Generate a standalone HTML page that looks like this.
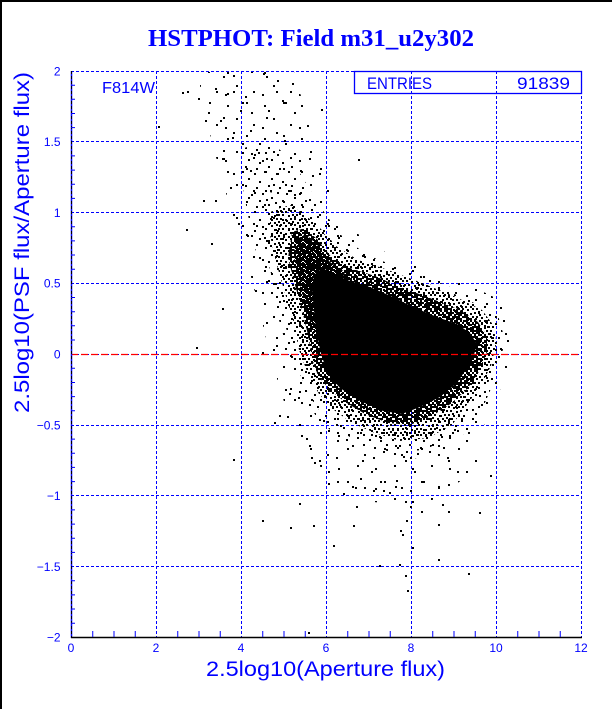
<!DOCTYPE html>
<html><head><meta charset="utf-8"><style>
html,body{margin:0;padding:0;background:#fff;}
svg{display:block;}
text{font-family:"Liberation Sans",sans-serif;fill:#0000ff;}
</style></head><body>
<svg width="612" height="709" viewBox="0 0 612 709" xmlns="http://www.w3.org/2000/svg">
<defs>
<pattern id="pD" width="10" height="10" patternUnits="userSpaceOnUse">
<path fill="#000" d="M0 0h2v2h-2z M4 0h2v2h-2z M6 0h2v2h-2z M2 2h2v2h-2z M6 2h2v2h-2z M8 2h2v2h-2z M0 4h2v2h-2z M4 4h2v2h-2z M8 4h2v2h-2z M2 6h2v2h-2z M4 6h2v2h-2z M6 6h2v2h-2z M0 8h2v2h-2z M6 8h2v2h-2z M8 8h2v2h-2z"/>
</pattern>
<pattern id="pD2" width="10" height="10" patternUnits="userSpaceOnUse" patternTransform="translate(3,5)">
<path fill="#000" d="M0 0h2v2h-2z M4 0h2v2h-2z M6 0h2v2h-2z M2 2h2v2h-2z M6 2h2v2h-2z M8 2h2v2h-2z M0 4h2v2h-2z M4 4h2v2h-2z M8 4h2v2h-2z M2 6h2v2h-2z M4 6h2v2h-2z M6 6h2v2h-2z M0 8h2v2h-2z M6 8h2v2h-2z M8 8h2v2h-2z"/>
</pattern>
<pattern id="pM" width="14" height="14" patternUnits="userSpaceOnUse">
<path fill="#000" d="M0 0h2v2h-2z M5 1h2v2h-2z M10 0h2v2h-2z M2 4h2v2h-2z M8 5h2v2h-2z M12 4h2v2h-2z M0 8h2v2h-2z M5 9h2v2h-2z M10 8h2v2h-2z M3 12h2v2h-2z M8 12h2v2h-2z M12 11h2v2h-2z"/>
</pattern>
<pattern id="pS1" width="23" height="19" patternUnits="userSpaceOnUse">
<path fill="#000" d="M1 2h2v2h-2z M12 0h2v2h-2z M18 7h2v2h-2z M6 10h2v2h-2z M15 14h2v2h-2z M3 16h2v2h-2z"/>
</pattern>
<pattern id="pS2" width="31" height="27" patternUnits="userSpaceOnUse">
<path fill="#000" d="M7 4h2v2h-2z M22 2h2v2h-2z M27 13h2v2h-2z M14 17h2v2h-2z M2 22h2v2h-2z M20 24h2v2h-2z"/>
</pattern>
<pattern id="pV" width="37" height="33" patternUnits="userSpaceOnUse">
<path fill="#000" d="M5 6h2v2h-2z M24 3h2v2h-2z M14 19h2v2h-2z M31 25h2v2h-2z M3 28h2v2h-2z"/>
</pattern>
<pattern id="pV2" width="43" height="41" patternUnits="userSpaceOnUse">
<path fill="#000" d="M18 9h2v2h-2z M36 30h2v2h-2z M8 35h2v2h-2z M27 20h2v2h-2z"/>
</pattern>
</defs>
<rect x="0" y="0" width="612" height="709" fill="#fff"/>
<rect x="0" y="0" width="612" height="2" fill="#000"/>
<rect x="0" y="0" width="2" height="709" fill="#000"/>

<!-- grid -->
<g stroke="#0000ff" stroke-width="1" stroke-dasharray="3 2" fill="none">
<line x1="156.5" y1="71" x2="156.5" y2="637"/>
<line x1="241.5" y1="71" x2="241.5" y2="637"/>
<line x1="326.5" y1="71" x2="326.5" y2="637"/>
<line x1="411.5" y1="71" x2="411.5" y2="637"/>
<line x1="496.5" y1="71" x2="496.5" y2="637"/>
<line x1="581.5" y1="71" x2="581.5" y2="637"/>
<line x1="71" y1="71.5" x2="581" y2="71.5"/>
<line x1="71" y1="141.5" x2="581" y2="141.5"/>
<line x1="71" y1="212.5" x2="581" y2="212.5"/>
<line x1="71" y1="283.5" x2="581" y2="283.5"/>
<line x1="71" y1="354.5" x2="581" y2="354.5"/>
<line x1="71" y1="425.5" x2="581" y2="425.5"/>
<line x1="71" y1="495.5" x2="581" y2="495.5"/>
<line x1="71" y1="566.5" x2="581" y2="566.5"/>
</g>

<!-- scatter layers -->
<polygon fill="url(#pV)" points="198,72 294,72 305,110 318,155 332,200 355,232 385,252 425,267 465,283 500,300 512,330 507,370 493,410 475,440 462,480 425,505 372,502 332,482 305,447 285,405 270,355 257,300 244,250 228,200 214,150 203,105"/>
<polygon fill="url(#pV2)" points="198,72 294,72 305,110 318,155 332,200 355,232 385,252 425,267 465,283 500,300 512,330 507,370 493,410 475,440 462,480 425,505 372,502 332,482 305,447 285,405 270,355 257,300 244,250 228,200 214,150 203,105"/>
<polygon fill="url(#pS1)" points="238,150 268,140 292,160 310,190 326,215 345,240 372,257 405,270 440,283 472,296 497,312 505,340 498,372 484,405 468,430 443,452 408,460 368,452 338,437 317,418 301,390 289,355 279,320 267,285 254,245 245,200"/>
<polygon fill="url(#pS2)" points="258,195 285,190 305,210 322,232 342,250 372,263 410,277 450,292 485,308 500,335 494,370 478,405 458,432 425,450 390,452 355,440 330,425 312,400 298,370 288,335 278,300 268,262 260,230"/>
<polygon fill="url(#pM)" points="270,212 290,205 305,215 320,228 336,246 358,260 388,270 422,283 456,297 482,310 494,326 496,345 491,366 480,387 466,406 452,425 428,438 400,441 375,433 352,423 334,410 319,394 308,374 299,350 293,320 284,290 276,262 270,235"/>
<polygon fill="url(#pD)" points="292,232 305,228 318,240 332,258 350,268 375,276 400,287 430,298 460,310 478,322 487,336 487,352 480,370 468,388 452,403 432,416 410,425 388,423 365,414 345,402 330,390 318,376 312,358 308,335 302,310 295,285 288,258"/>
<polygon fill="url(#pD2)" points="295,240 306,234 318,246 330,262 345,272 335,300 322,330 312,330 305,305 299,280 294,258"/>
<polygon fill="#000" points="312,290 314,275 322,268 335,274 347,280 370,287 393,297 413,307 437,317 457,324 470,333 477,344 474,355 467,368 457,383 440,397 420,407 402,414 383,411 360,401 340,388 328,374 321,354 316,330"/>

<path fill="#000" d="M158 126h2v2h-2z M182 92h2v2h-2z M187 91h2v2h-2z M198 98h2v2h-2z M205 120h2v2h-2z M220 120h2v2h-2z M223 150h2v2h-2z M222 158h2v2h-2z M203 200h2v2h-2z M215 200h2v2h-2z M211 243h2v2h-2z M230 187h2v2h-2z M232 137h2v2h-2z M222 308h2v2h-2z M247 235h2v2h-2z M238 223h2v2h-2z M255 290h2v2h-2z M358 159h2v2h-2z M321 109h2v2h-2z M307 125h2v2h-2z M292 83h2v2h-2z M277 80h2v2h-2z M263 73h2v2h-2z M233 75h2v2h-2z M215 88h2v2h-2z M227 93h2v2h-2z
M233 459h2v2h-2z M299 503h2v2h-2z M290 527h2v2h-2z M313 525h2v2h-2z M333 545h2v2h-2z M379 565h2v2h-2z M399 564h2v2h-2z M407 590h2v2h-2z M412 547h2v2h-2z M438 559h2v2h-2z M468 573h2v2h-2z M442 504h2v2h-2z M448 511h2v2h-2z M479 512h2v2h-2z M400 530h2v2h-2z M402 534h2v2h-2z M406 520h2v2h-2z M356 506h2v2h-2z M353 525h2v2h-2z M410 506h2v2h-2z M421 511h2v2h-2z M438 524h2v2h-2z M490 475h2v2h-2z M475 460h2v2h-2z M448 484h2v2h-2z M466 471h2v2h-2z M343 493h2v2h-2z M389 492h2v2h-2z M383 490h2v2h-2z M375 488h2v2h-2z M360 478h2v2h-2z M396 480h2v2h-2z M355 487h2v2h-2z M328 483h2v2h-2z M311 457h2v2h-2z M314 462h2v2h-2z M306 438h2v2h-2z M279 415h2v2h-2z M287 416h2v2h-2z M274 422h2v2h-2z M289 393h2v2h-2z M298 397h2v2h-2z M308 632h2v2h-2z
M262 352h2v2h-2z M276 345h2v2h-2z M196 347h2v2h-2z M503 320h2v2h-2z M507 340h2v2h-2z M262 520h2v2h-2z M405 575h2v2h-2z M186 229h2v2h-2z M250 170h2v2h-2z M268 110h2v2h-2z M245 96h2v2h-2z M284 140h2v2h-2z M300 170h2v2h-2z M270 190h2v2h-2z M250 130h2v2h-2z M258 152h2v2h-2z M240 110h2v2h-2z M282 100h2v2h-2z M312 175h2v2h-2z"/>

<!-- zero line -->
<line x1="71" y1="354.5" x2="581" y2="354.5" stroke="#ff0000" stroke-width="1.2" stroke-dasharray="7 3"/>

<!-- axes -->
<line x1="71.5" y1="71" x2="71.5" y2="638" stroke="#0000ff" stroke-width="1.5"/>
<line x1="71.5" y1="71" x2="71.5" y2="638" stroke="#000" stroke-width="1" stroke-dasharray="3 2"/>
<line x1="71" y1="637.5" x2="582" y2="637.5" stroke="#000" stroke-width="1.5"/>

<!-- ticks -->
<g stroke="#0000ff" stroke-width="1">
<path d="M71 85.2h4 M71 99.3h4 M71 113.5h4 M71 127.6h4 M71 155.9h4 M71 170.1h4 M71 184.2h4 M71 198.4h4 M71 226.7h4 M71 240.9h4 M71 255h4 M71 269.2h4 M71 297.5h4 M71 311.7h4 M71 325.8h4 M71 340h4 M71 368.3h4 M71 382.5h4 M71 396.6h4 M71 410.8h4 M71 439.1h4 M71 453.3h4 M71 467.4h4 M71 481.6h4 M71 509.9h4 M71 524.1h4 M71 538.2h4 M71 552.4h4 M71 580.7h4 M71 594.9h4 M71 609h4 M71 623.2h4"/>
<path d="M92.75 637v-6 M114 637v-6 M135.25 637v-6 M177.75 637v-6 M199 637v-6 M220.25 637v-6 M262.75 637v-6 M284 637v-6 M305.25 637v-6 M347.75 637v-6 M369 637v-6 M390.25 637v-6 M432.75 637v-6 M454 637v-6 M475.25 637v-6 M517.75 637v-6 M539 637v-6 M560.25 637v-6"/>
</g>

<!-- stats box -->
<rect x="354.5" y="71.5" width="227" height="22" fill="none" stroke="#0000ff" stroke-width="1.3"/>
<text x="367" y="89" font-size="17" textLength="65" lengthAdjust="spacingAndGlyphs">ENTRIES</text>
<text x="517" y="89" font-size="17" textLength="53" lengthAdjust="spacingAndGlyphs">91839</text>
<text x="102" y="93" font-size="15.5" textLength="53" lengthAdjust="spacingAndGlyphs">F814W</text>

<!-- y tick labels -->
<g font-size="12" text-anchor="end">
<text x="60.5" y="75.3">2</text>
<text x="60.5" y="146.1">1.5</text>
<text x="60.5" y="216.9">1</text>
<text x="60.5" y="287.7">0.5</text>
<text x="60.5" y="358.5">0</text>
<text x="60.5" y="429.3">−0.5</text>
<text x="60.5" y="500.1">−1</text>
<text x="60.5" y="570.9">−1.5</text>
<text x="60.5" y="641.7">−2</text>
</g>
<!-- x tick labels -->
<g font-size="12" text-anchor="middle">
<text x="71" y="652">0</text>
<text x="156" y="652">2</text>
<text x="241" y="652">4</text>
<text x="326" y="652">6</text>
<text x="411" y="652">8</text>
<text x="496" y="652">10</text>
<text x="581" y="652">12</text>
</g>

<text x="206" y="676" font-size="21" textLength="239" lengthAdjust="spacingAndGlyphs">2.5log10(Aperture flux)</text>
<text transform="translate(29,413) rotate(-90)" x="0" y="0" font-size="21" textLength="341" lengthAdjust="spacingAndGlyphs">2.5log10(PSF flux/Aperture flux)</text>

<text x="148" y="46" font-size="24.5" font-weight="bold" style="font-family:'Liberation Serif',serif" textLength="326" lengthAdjust="spacingAndGlyphs">HSTPHOT: Field m31_u2y302</text>
</svg>
</body></html>
